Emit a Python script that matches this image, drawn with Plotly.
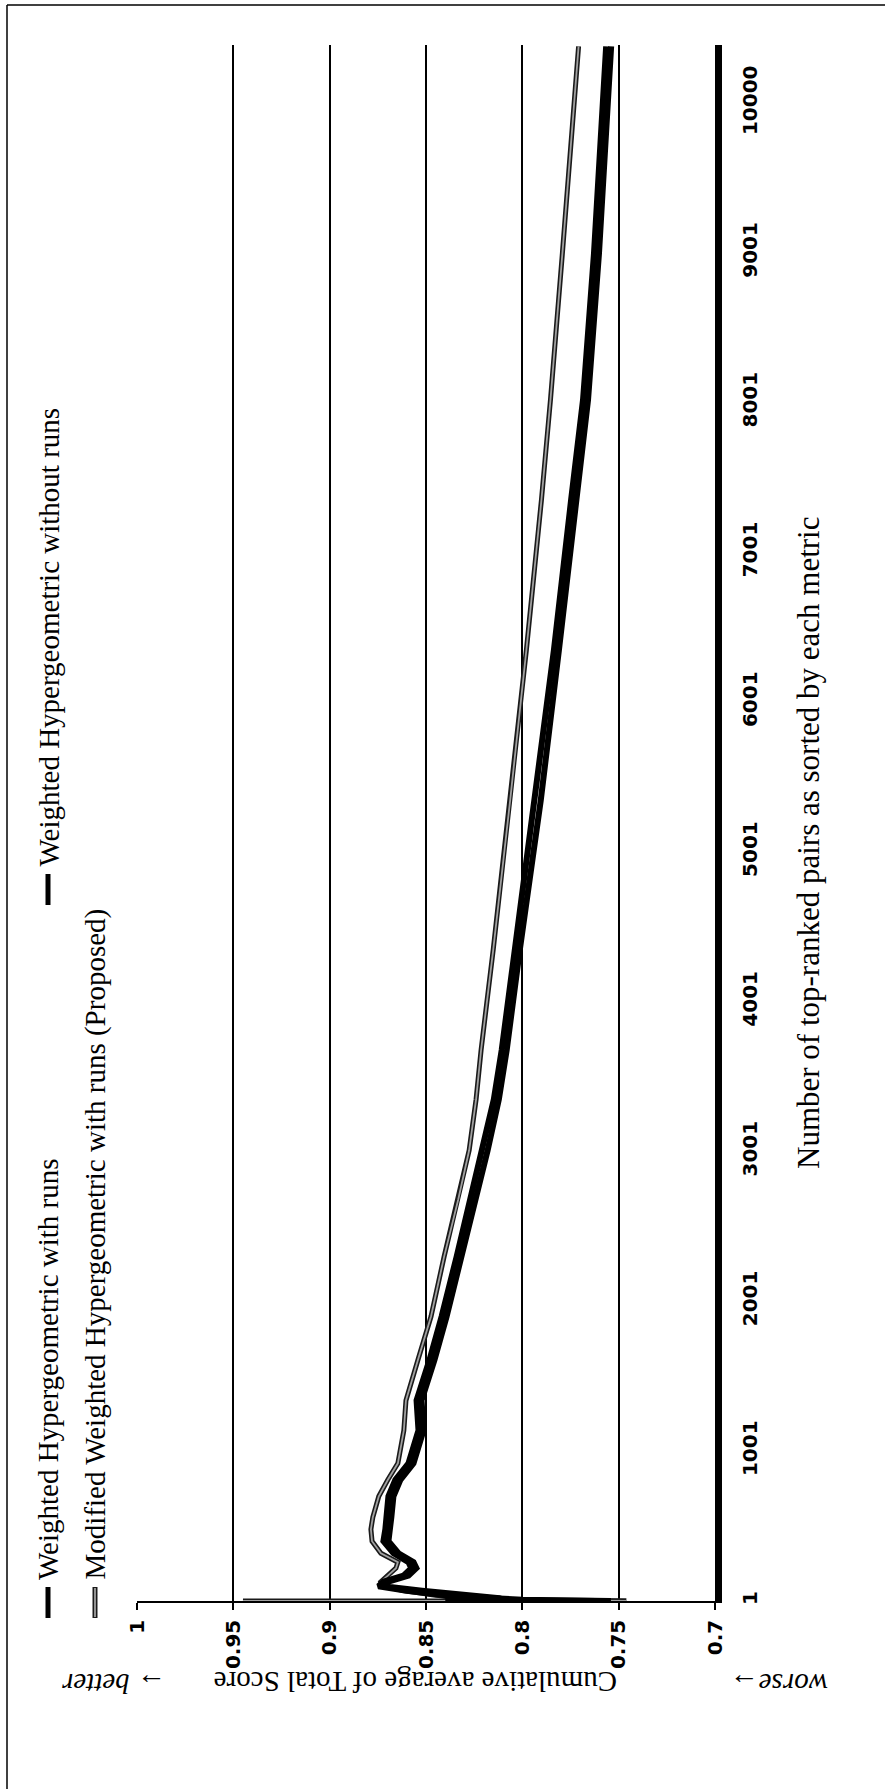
import plotly.graph_objects as go

# Number of top-ranked pairs (category axis of the chart)
pairs = [1, 2, 3, 5, 10, 20, 40, 70, 100, 130,
         170, 220, 260, 320, 400, 480, 560, 700, 810, 920,
         1140, 1340, 1610, 1900, 2300, 2680, 3010, 3350, 3680, 4350,
         5350, 6350, 7350, 8020, 9000, 10380]

# Cumulative average of Total Score for each metric
score_proposed = [0.945, 0.746, 0.790, 0.800, 0.808, 0.825, 0.845, 0.862, 0.872, 0.8734,
                  0.8698, 0.8656, 0.8646, 0.8734, 0.8780, 0.8786, 0.8776, 0.8745, 0.8698, 0.8646,
                  0.8615, 0.8604, 0.8542, 0.8474, 0.8406, 0.8333, 0.8276, 0.8240, 0.8214, 0.8151,
                  0.8063, 0.7979, 0.7901, 0.7854, 0.7792, 0.7708]

score_with_runs = [0.754, 0.800, 0.770, 0.790, 0.800, 0.815, 0.840, 0.860, 0.8747, 0.8721,
                   0.8617, 0.8576, 0.8591, 0.8669, 0.8721, 0.8711, 0.8706, 0.8695, 0.8659, 0.8591,
                   0.8539, 0.8549, 0.8482, 0.8419, 0.8341, 0.8273, 0.8206, 0.8148, 0.8107, 0.8039,
                   0.7930, 0.7836, 0.7747, 0.7685, 0.7628, 0.7565]

score_without_runs = [0.840, 0.810, 0.815, 0.808, 0.810, 0.812, 0.830, 0.852, 0.8721, 0.8695,
                      0.8591, 0.8550, 0.8565, 0.8643, 0.8695, 0.8685, 0.8680, 0.8669, 0.8633, 0.8565,
                      0.8513, 0.8523, 0.8456, 0.8393, 0.8315, 0.8247, 0.8180, 0.8122, 0.8081, 0.8013,
                      0.7904, 0.7810, 0.7721, 0.7659, 0.7602, 0.7539]

series_names = ["Weighted Hypergeometric with runs",
                "Modified Weighted Hypergeometric with runs (Proposed)",
                "Weighted Hypergeometric without runs"]

score_ticks = [1.0, 0.95, 0.9, 0.85, 0.8, 0.75, 0.7]
score_tick_text = ["1", "0.95", "0.9", "0.85", "0.8", "0.75", "0.7"]
pair_ticks = [1, 1001, 2001, 3001, 4001, 5001, 6001, 7001, 8001, 9001, 10000]
pair_tick_text = ["1", "1001", "2001", "3001", "4001", "5001", "6001", "7001", "8001", "9001", "10000"]

W, H = 885, 1789
L, R, T, B = 137, 170, 45, 188
PW, PH = W - L - R, H - T - B


def px(x):
    return (x - L) / PW


def py(y):
    return (H - B - y) / PH


SERIF = "Liberation Serif"
TICKFONT = dict(family="DejaVu Sans", size=20, color="black", weight="bold")
GREY_EDGE, GREY_CORE = "#1a1a1a", "#a0a0a0"

fig = go.Figure()

# proposed metric: grey line with dark edge
fig.add_trace(go.Scatter(x=score_proposed, y=pairs, mode="lines",
                         line=dict(color=GREY_EDGE, width=5), hoverinfo="skip"))
fig.add_trace(go.Scatter(x=score_proposed, y=pairs, mode="lines", name=series_names[1],
                         line=dict(color=GREY_CORE, width=1.8)))
fig.add_trace(go.Scatter(x=score_without_runs, y=pairs, mode="lines", name=series_names[2],
                         line=dict(color="black", width=6)))
fig.add_trace(go.Scatter(x=score_with_runs, y=pairs, mode="lines", name=series_names[0],
                         line=dict(color="black", width=6)))

fig.update_xaxes(range=[1.0, 0.7], tickvals=score_ticks, ticktext=score_tick_text,
                 tickangle=-90, ticks="outside", ticklen=7, tickwidth=1.5, tickcolor="black",
                 showgrid=True, gridcolor="black", gridwidth=1.5,
                 showline=True, linecolor="black", linewidth=1.5, zeroline=False,
                 tickfont=TICKFONT, ticklabelstandoff=2)
fig.update_yaxes(range=[1, 10389], side="right", tickvals=pair_ticks, ticktext=pair_tick_text,
                 tickangle=-90, showgrid=False, zeroline=False,
                 showline=True, linecolor="black", linewidth=7,
                 tickfont=TICKFONT, ticklabelstandoff=11)

shapes = []
annotations = []

# page frame (left and top edges)
shapes.append(dict(type="line", xref="paper", yref="paper", x0=px(7), x1=px(7), y0=py(5), y1=py(H + 5),
                   line=dict(color="black", width=1.5)))
shapes.append(dict(type="line", xref="paper", yref="paper", x0=px(7), x1=px(W + 5), y0=py(5), y1=py(5),
                   line=dict(color="black", width=1.5)))

# legend swatches and labels
legend_rows = [(48, 1618, 1587, 1582, series_names[0], "solid"),
               (95, 1618, 1587, 1582, series_names[1], "grey"),
               (48, 905, 874, 869, series_names[2], "solid")]
for x, y0, y1, ytext, name, style in legend_rows:
    if style == "grey":
        shapes.append(dict(type="line", xref="paper", yref="paper", x0=px(x), x1=px(x), y0=py(y0), y1=py(y1),
                           line=dict(color=GREY_EDGE, width=5)))
        shapes.append(dict(type="line", xref="paper", yref="paper", x0=px(x), x1=px(x), y0=py(y0 - 1), y1=py(y1 + 1),
                           line=dict(color=GREY_CORE, width=1.8)))
    else:
        shapes.append(dict(type="line", xref="paper", yref="paper", x0=px(x), x1=px(x), y0=py(y0), y1=py(y1),
                           line=dict(color="black", width=5)))
    annotations.append(dict(text=name, xref="paper", yref="paper", x=px(x), y=py(ytext),
                            xanchor="center", yanchor="bottom", textangle=-90, showarrow=False,
                            font=dict(family=SERIF, size=29, color="black")))

# axis titles
annotations.append(dict(text="Number of top-ranked pairs as sorted by each metric",
                        xref="paper", yref="paper", x=px(808), y=py(843),
                        xanchor="center", yanchor="middle", textangle=-90, showarrow=False,
                        font=dict(family=SERIF, size=31, color="black")))
annotations.append(dict(text="Cumulative average of Total Score",
                        xref="paper", yref="paper", x=px(416), y=py(1682),
                        xanchor="center", yanchor="middle", textangle=180, showarrow=False,
                        font=dict(family=SERIF, size=29, color="black")))
annotations.append(dict(text="\u2192 better", xref="paper", yref="paper", x=px(114), y=py(1684),
                        xanchor="center", yanchor="middle", textangle=180, showarrow=False,
                        font=dict(family=SERIF, size=29, color="black", style="italic")))
annotations.append(dict(text="worse\u2192", xref="paper", yref="paper", x=px(779), y=py(1684),
                        xanchor="center", yanchor="middle", textangle=180, showarrow=False,
                        font=dict(family=SERIF, size=29, color="black", style="italic")))

fig.update_layout(width=W, height=H, margin=dict(l=L, r=R, t=T, b=B),
                  paper_bgcolor="white", plot_bgcolor="white", showlegend=False,
                  shapes=shapes, annotations=annotations)

fig.write_html("out.html")
